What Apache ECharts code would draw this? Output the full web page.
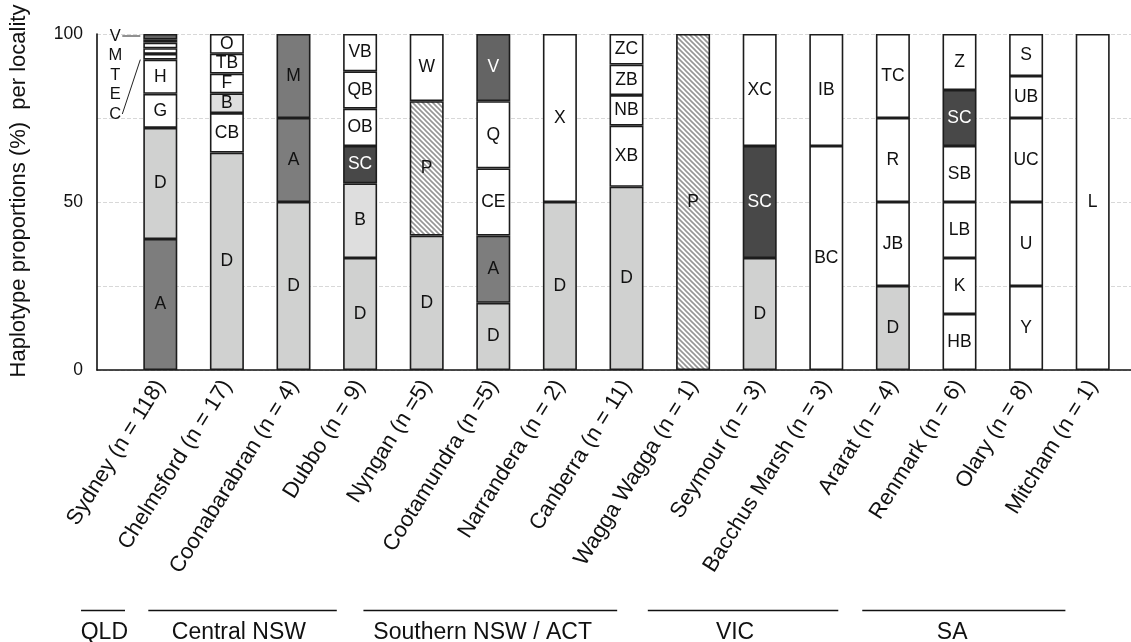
<!DOCTYPE html>
<html>
<head>
<meta charset="utf-8">
<script src="https://cdn.jsdelivr.net/npm/echarts@6/dist/echarts.min.js"></script>
<style>
  html, body { margin: 0; padding: 0; background: #ffffff; }
  #chart { width: 1131px; height: 642px; }
</style>
</head>
<body>
<div id="chart"></div>
<script>
// ---- Data: localities and haplotype counts (bottom to top of each bar) ----
const categories = [
  'Sydney (n = 118)', 'Chelmsford (n = 17)', 'Coonabarabran (n = 4)', 'Dubbo (n = 9)',
  'Nyngan (n =5)', 'Cootamundra (n =5)', 'Narrandera (n = 2)', 'Canberra (n = 11)',
  'Wagga Wagga (n = 1)', 'Seymour (n = 3)', 'Bacchus Marsh (n = 3)', 'Ararat (n = 4)',
  'Renmark (n = 6)', 'Olary (n = 8)', 'Mitcham (n = 1)'
];
const sampleSizes = [118, 17, 4, 9, 5, 5, 2, 11, 1, 3, 3, 4, 6, 8, 1];

const sydney        = [['A', 46], ['D', 39], ['G', 12], ['H', 12], ['C', 2], ['E', 2], ['T', 2], ['M', 1], ['V', 2]];
const chelmsford    = [['D', 11], ['CB', 2], ['B', 1], ['F', 1], ['TB', 1], ['O', 1]];
const coonabarabran = [['D', 2], ['A', 1], ['M', 1]];
const dubbo         = [['D', 3], ['B', 2], ['SC', 1], ['OB', 1], ['QB', 1], ['VB', 1]];
const nyngan        = [['D', 2], ['P', 2], ['W', 1]];
const cootamundra   = [['D', 1], ['A', 1], ['CE', 1], ['Q', 1], ['V', 1]];
const narrandera    = [['D', 1], ['X', 1]];
const canberra      = [['D', 6], ['XB', 2], ['NB', 1], ['ZB', 1], ['ZC', 1]];
const waggaWagga    = [['P', 1]];
const seymour       = [['D', 1], ['SC', 1], ['XC', 1]];
const bacchusMarsh  = [['BC', 2], ['IB', 1]];
const ararat        = [['D', 1], ['JB', 1], ['R', 1], ['TC', 1]];
const renmark       = [['HB', 1], ['K', 1], ['LB', 1], ['SB', 1], ['SC', 1], ['Z', 1]];
const olary         = [['Y', 2], ['U', 2], ['UC', 2], ['UB', 1], ['S', 1]];
const mitcham       = [['L', 1]];

const localities = [sydney, chelmsford, coonabarabran, dubbo, nyngan, cootamundra, narrandera,
  canberra, waggaWagga, seymour, bacchusMarsh, ararat, renmark, olary, mitcham];

const regionNames = ['QLD', 'Central NSW', 'Southern NSW / ACT', 'VIC', 'SA'];

// ---- Styling ----
const FONT = '"Liberation Sans", Arial, sans-serif';

// diagonal hatch used for haplotype P
function hatchPattern() {
  const s = 5;
  const c = document.createElement('canvas');
  c.width = s; c.height = s;
  const g = c.getContext('2d');
  g.fillStyle = '#ffffff';
  g.fillRect(0, 0, s, s);
  g.strokeStyle = '#959595';
  g.lineWidth = 1.6;
  g.beginPath();
  g.moveTo(-1, -1); g.lineTo(s + 1, s + 1);
  g.moveTo(-1, s - 1); g.lineTo(1, s + 1);
  g.moveTo(s - 1, -1); g.lineTo(s + 1, 1);
  g.stroke();
  return { image: c, repeat: 'repeat' };
}
const hatch = hatchPattern();

const fills = {
  D: '#d0d1d0',
  A: '#7d7d7d',
  M: '#7a7a7a',
  V: '#646464',
  SC: '#484848',
  B: '#dedede'
};
const lightText = ['SC', 'V'];
function fillFor(hap) {
  if (hap === 'P') return hatch;
  return fills[hap] || '#ffffff';
}

// ---- Series: one stacked layer per segment position ----
const maxLayers = Math.max(...localities.map(l => l.length));
const series = [];
for (let k = 0; k < maxLayers; k++) {
  series.push({
    type: 'bar',
    stack: 'haplotypes',
    xAxisIndex: 0,
    yAxisIndex: 0,
    barWidth: 34,
    animation: false,
    itemStyle: { borderColor: '#1c1c1c', borderWidth: 1.6 },
    label: {
      show: true,
      position: 'inside',
      fontFamily: FONT,
      fontSize: 17.5,
      formatter: p => p.data.name
    },
    data: localities.map((loc, i) => {
      if (k >= loc.length) return { value: '-' };
      const [hap, count] = loc[k];
      const pct = count / sampleSizes[i] * 100;
      return {
        value: pct,
        name: hap,
        itemStyle: { color: fillFor(hap) },
        label: { show: pct >= 4, color: lightText.includes(hap) ? '#ffffff' : '#111111' }
      };
    })
  });
}

const chart = echarts.init(document.getElementById('chart'), null, { renderer: 'canvas' });

const option = {
  backgroundColor: '#ffffff',
  animation: false,
  grid: [
    { left: 127, right: 5, top: 34, bottom: 272 },
    { left: 96, right: 0, top: 34, bottom: 272 }
  ],
  xAxis: [
    {
      type: 'category', gridIndex: 0, data: categories,
      axisLine: { show: false }, axisTick: { show: false },
      axisLabel: {
        interval: 0, rotate: 58, margin: 12,
        fontFamily: FONT, fontSize: 22, color: '#111111'
      }
    },
    {
      type: 'value', gridIndex: 1, min: 0, max: 1,
      axisLine: { show: true, lineStyle: { color: '#111111', width: 1.6 } },
      axisTick: { show: false }, axisLabel: { show: false }, splitLine: { show: false }
    }
  ],
  yAxis: [
    {
      type: 'value', gridIndex: 0, min: 0, max: 100,
      show: false, splitLine: { show: false }
    },
    {
      type: 'value', gridIndex: 1, min: 0, max: 100, interval: 25,
      name: 'Haplotype proportions (%)  per locality',
      nameLocation: 'middle', nameGap: 67,
      nameTextStyle: { fontFamily: FONT, fontSize: 22, color: '#111111', padding: [0, 0, 0, 22] },
      axisLine: { show: true, lineStyle: { color: '#111111', width: 1.6 } },
      axisTick: { show: false },
      axisLabel: {
        margin: 14, fontFamily: FONT, fontSize: 17.5, color: '#111111',
        formatter: v => (v % 50 === 0 ? String(v) : '')
      },
      splitLine: { show: true, lineStyle: { color: '#d8d8d8', type: 'dashed', width: 1 } }
    }
  ],
  series: series
};
chart.setOption(option);

// ---- Annotations: Sydney minor haplotypes and regional groupings ----
const toPx = (cat, val) => chart.convertToPixel({ xAxisIndex: 0, yAxisIndex: 0 }, [cat, val]);
const bandStart = toPx(0, 0)[0];
const bandStep = toPx(1, 0)[0] - bandStart;
const catX = idx => bandStart + idx * bandStep;
const halfBar = 17;

const graphics = [];

// Sydney: thin segments labelled outside the bar
const sydTotal = sampleSizes[0];
const thin = [];
let cum = 0;
sydney.forEach(([hap, count]) => {
  const pct = count / sydTotal * 100;
  if (pct < 4) thin.push({ hap, from: cum, to: cum + pct });
  cum += pct;
});
const thinTopDown = thin.slice().reverse();
const barLeft = catX(0) - halfBar;
const topY = toPx(0, 100)[1];
const thinBottomY = toPx(0, thin[0].from)[1];
const letterX = barLeft - 28;
thinTopDown.forEach((t, j) => {
  graphics.push({
    type: 'text', x: letterX, y: topY + 2 + j * 19.5,
    style: { text: t.hap, fontFamily: FONT, fontSize: 16.5, fill: '#111111', align: 'center', verticalAlign: 'middle' }
  });
});
graphics.push({
  type: 'line',
  shape: { x1: letterX + 7, y1: topY + 2, x2: barLeft - 3, y2: topY + 2 },
  style: { stroke: '#222222', lineWidth: 1 }
});
const lastLetterY = topY + 2 + (thinTopDown.length - 1) * 19.5;
graphics.push({
  type: 'line',
  shape: { x1: letterX + 7, y1: lastLetterY, x2: barLeft - 3, y2: thinBottomY },
  style: { stroke: '#222222', lineWidth: 1 }
});

// Regional groupings under the rotated locality labels (in category units)
const regionSpans = [[-1.19, -0.53], [-0.18, 2.65], [3.05, 6.86], [7.32, 10.18], [10.54, 13.59]];
const regionLabelAt = [-0.84, 1.18, 4.84, 8.63, 11.89];
regionNames.forEach((name, r) => {
  graphics.push({
    type: 'line',
    shape: { x1: catX(regionSpans[r][0]), y1: 610.5, x2: catX(regionSpans[r][1]), y2: 610.5 },
    style: { stroke: '#111111', lineWidth: 1.6 }
  });
  graphics.push({
    type: 'text', x: catX(regionLabelAt[r]), y: 633,
    style: { text: name, fontFamily: FONT, fontSize: 23, fill: '#111111', align: 'center', verticalAlign: 'middle' }
  });
});

chart.setOption({ graphic: graphics });
</script>
</body>
</html>
